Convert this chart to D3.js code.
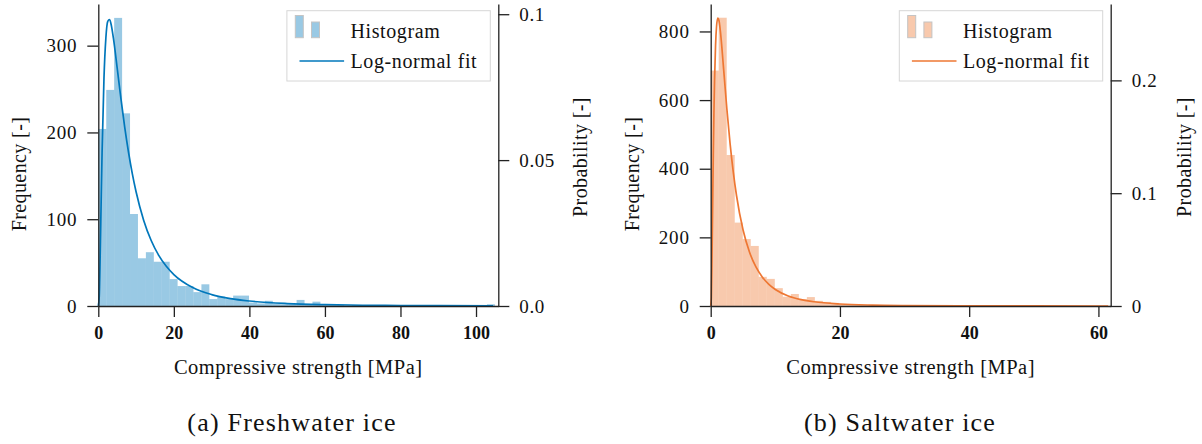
<!DOCTYPE html>
<html>
<head>
<meta charset="utf-8">
<script src="https://cdn.jsdelivr.net/npm/d3@7"></script>
<style>
  html, body { margin: 0; padding: 0; background: #fff; }
  svg { display: block; }
  text { font-family: "Liberation Serif", "DejaVu Serif", serif; fill: #111; }
</style>
</head>
<body>
<svg id="chart" width="1202" height="444"></svg>
<script>
// ---------------- DATA ----------------
// (a) Freshwater ice: histogram bin edges [MPa] and counts
const freshEdges = [0,2.1,4.2,6.3,8.4,10.5,12.6,14.7,16.8,18.9,21,23.1,25.2,27.3,29.4,31.5,33.6,35.7,37.8,39.9,42,44.1,46.2,48.3,50.4,52.5,54.6,56.7,58.8,60.9,63,65.1,67.2,69.3,71.4,73.5,75.6,77.7,79.8,81.9,84,86.1,88.2,90.3,92.4,94.5,96.6,98.7,100.8,102.9,105];
const freshCounts = [204,249,332,222,106,55,62,51,51,31,23,23,16,25,8,11,8,12,12,4,3,6,3,2,2,7,2,5,1,1,1,0,1,0,1,0,0,1,0,0,1,0,0,0,1,0,0,0,0,2];
// log-normal fit (probability density)
const freshFitX = [0,0.25,0.5,0.75,1,1.5,2,2.5,3,3.5,4,5,6,7,8,9,10,12,14,16,18,20,25,30,35,40,50,60,70,80,90,104.5];
const freshFitY = [0,0.00327,0.01734,0.0355,0.05264,0.07797,0.09176,0.09752,0.09819,0.09585,0.09179,0.08157,0.07097,0.06122,0.05269,0.04537,0.03915,0.02943,0.02244,0.01735,0.0136,0.01078,0.006325,0.00392,0.002538,0.001704,0.000836,0.000448,0.000256,0.000154,0.0000972,0.0000528];
const freshXTicks = [0,20,40,60,80,100];
const freshFreqTicks = [0,100,200,300];
const freshProbTicks = [0,0.05,0.1];
const freshProbLabels = ["0.0","0.05","0.1"];

// (b) Saltwater ice
const saltEdges = [0,1.24,2.48,3.72,4.96,6.2,7.44,8.68,9.92,11.16,12.4,13.64,14.88,16.12,17.36,18.6,19.84,21.08,22.32,23.56,24.8,26.04,27.28,28.52,29.76,31,32.24,33.48,34.72,35.96,37.2,38.44,39.68,40.92,42.16,43.4,44.64,45.88,47.12,48.36,49.6,50.84,52.08,53.32,54.56,55.8,57.04,58.28,59.52,60.76,62];
const saltCounts = [686,840,440,243,195,175,85,79,52,27,35,20,26,15,12,9,6,5,4,3,3,2,2,2,1,1,1,1,0,1,0,1,0,0,0,0,0,1,0,0,0,0,0,0,0,0,0,0,0,1];
const saltFitX = [0,0.1,0.2,0.3,0.4,0.5,0.6,0.75,0.9,1.1,1.3,1.5,2,2.5,3,3.5,4,5,6,7,8,9,10,12,14,16,20,25,30,40,50,61.5];
const saltFitY = [0,0.00745,0.0421,0.0887,0.1335,0.1713,0.2007,0.2309,0.2475,0.2553,0.2524,0.2434,0.21,0.1748,0.144,0.1185,0.09773,0.06758,0.04781,0.03459,0.02554,0.01919,0.01466,0.008909,0.005668,0.003743,0.001785,0.000801,0.000398,0.000122,0.0000455,0.0000172];
const saltXTicks = [0,20,40,60];
const saltFreqTicks = [0,200,400,600,800];
const saltProbTicks = [0,0.1,0.2];
const saltProbLabels = ["0","0.1","0.2"];

const legendLabels = ["Histogram", "Log-normal fit"];
const xTitle = "Compressive strength [MPa]";
const yLeftTitle = "Frequency [-]";
const yRightTitle = "Probability [-]";
const captions = ["(a) Freshwater ice", "(b) Saltwater ice"];
const colors = ["#0077BB", "#EE7733"];

// ---------------- DRAWING ----------------
const svg = d3.select("#chart");
svg.append("rect").attr("width",1202).attr("height",444).attr("fill","#fff");

const panels = [
  { left: 98.3, right: 498.3, xMax: 105.9, countMax: 348, probMax: 0.1035,
    edges: freshEdges, counts: freshCounts, fx: freshFitX, fy: freshFitY,
    xTicks: freshXTicks, freqTicks: freshFreqTicks, probTicks: freshProbTicks, probLabels: freshProbLabels,
    color: colors[0], caption: captions[0], freqTitleX: 19, probTitleX: 580, captionX: 292 },
  { left: 710.7, right: 1110.7, xMax: 61.9, countMax: 880, probMax: 0.2677,
    edges: saltEdges, counts: saltCounts, fx: saltFitX, fy: saltFitY,
    xTicks: saltXTicks, freqTicks: saltFreqTicks, probTicks: saltProbTicks, probLabels: saltProbLabels,
    color: colors[1], caption: captions[1], freqTitleX: 631.7, probTitleX: 1184, captionX: 900 }
];

const plotTop = 4, plotBottom = 306;

panels.forEach(p => {
  const g = svg.append("g");
  const x = d3.scaleLinear().domain([0, p.xMax]).range([p.left, p.right]);
  const yC = d3.scaleLinear().domain([0, p.countMax]).range([plotBottom, plotTop]);
  const yP = d3.scaleLinear().domain([0, p.probMax]).range([plotBottom, plotTop]);

  // histogram bars
  const bins = p.counts.map((c, i) => ({ x0: p.edges[i], x1: p.edges[i + 1], c }));
  g.append("g").selectAll("rect").data(bins.filter(b => b.c > 0)).join("rect")
    .attr("x", d => x(d.x0))
    .attr("width", d => x(d.x1) - x(d.x0))
    .attr("y", d => yC(d.c))
    .attr("height", d => yC(0) - yC(d.c))
    .attr("fill", p.color).attr("fill-opacity", 0.4);

  // fit curve
  const pts = p.fx.map((v, i) => [v, p.fy[i]]);
  g.append("path").datum(pts)
    .attr("fill", "none").attr("stroke", p.color).attr("stroke-width", 1.7)
    .attr("d", d3.line().x(d => x(d[0])).y(d => yP(d[1])).curve(d3.curveMonotoneX));

  // axes
  const styleAxis = sel => {
    sel.selectAll("path.domain").attr("stroke", "#222").attr("stroke-width", 1.3);
    sel.selectAll(".tick line").attr("stroke", "#222").attr("stroke-width", 1.3);
    sel.selectAll(".tick text").attr("font-family", "'Liberation Serif', serif").attr("fill", "#111");
  };
  const xa = g.append("g").attr("transform", `translate(0,${plotBottom})`)
    .call(d3.axisBottom(x).tickValues(p.xTicks).tickSize(11).tickSizeOuter(0).tickPadding(9).tickFormat(d3.format("d")));
  styleAxis(xa);
  xa.selectAll(".tick text").attr("font-size", 18).attr("font-weight", "bold");

  const ya = g.append("g").attr("transform", `translate(${p.left},0)`)
    .call(d3.axisLeft(yC).tickValues(p.freqTicks).tickSize(11).tickSizeOuter(0).tickPadding(10).tickFormat(d3.format("d")));
  styleAxis(ya);
  ya.selectAll(".tick text").attr("font-size", 19).attr("letter-spacing", 0.8);

  const yb = g.append("g").attr("transform", `translate(${p.right},0)`)
    .call(d3.axisRight(yP).tickValues(p.probTicks).tickSize(11).tickSizeOuter(0).tickPadding(10)
      .tickFormat((d, i) => p.probLabels[i]));
  styleAxis(yb);
  yb.selectAll(".tick text").attr("font-size", 19).attr("letter-spacing", 0.6);

  // axis titles
  g.append("text").attr("x", (p.left + p.right) / 2).attr("y", 374)
    .attr("text-anchor", "middle").attr("font-size", 20.5).attr("letter-spacing", 0.5).text(xTitle);
  g.append("text").attr("transform", `translate(${p.freqTitleX},174) rotate(-90)`)
    .attr("text-anchor", "middle").attr("dominant-baseline", "central").attr("font-size", 20)
    .attr("letter-spacing", 0.4).text(yLeftTitle);
  g.append("text").attr("transform", `translate(${p.probTitleX},157) rotate(-90)`)
    .attr("text-anchor", "middle").attr("dominant-baseline", "central").attr("font-size", 20)
    .attr("letter-spacing", 0.4).text(yRightTitle);

  // caption
  g.append("text").attr("x", p.captionX).attr("y", 431)
    .attr("text-anchor", "middle").attr("font-size", 26).attr("letter-spacing", 1.2).text(p.caption);

  // legend
  const bw = 203.4, bx = p.right - 8 - bw;
  const lg = g.append("g");
  lg.append("rect").attr("x", bx).attr("y", 10.7).attr("width", bw).attr("height", 70.3)
    .attr("fill", "#fff").attr("stroke", "#d6d6d6").attr("stroke-width", 1);
  lg.append("rect").attr("x", bx + 8.4).attr("y", 15.5).attr("width", 8).attr("height", 22.2)
    .attr("fill", p.color).attr("fill-opacity", 0.4).attr("stroke", "#c4c4c4").attr("stroke-width", 1);
  lg.append("rect").attr("x", bx + 24.6).attr("y", 22).attr("width", 8).attr("height", 15.7)
    .attr("fill", p.color).attr("fill-opacity", 0.4).attr("stroke", "#c4c4c4").attr("stroke-width", 1);
  lg.append("line").attr("x1", bx + 12.6).attr("x2", bx + 57.2).attr("y1", 61).attr("y2", 61)
    .attr("stroke", p.color).attr("stroke-width", 1.6);
  lg.append("text").attr("x", bx + 63.6).attr("y", 38).attr("font-size", 20).attr("letter-spacing", 0.6).text(legendLabels[0]);
  lg.append("text").attr("x", bx + 63.6).attr("y", 68).attr("font-size", 20).attr("letter-spacing", 0.6).text(legendLabels[1]);
});
</script>
</body>
</html>
